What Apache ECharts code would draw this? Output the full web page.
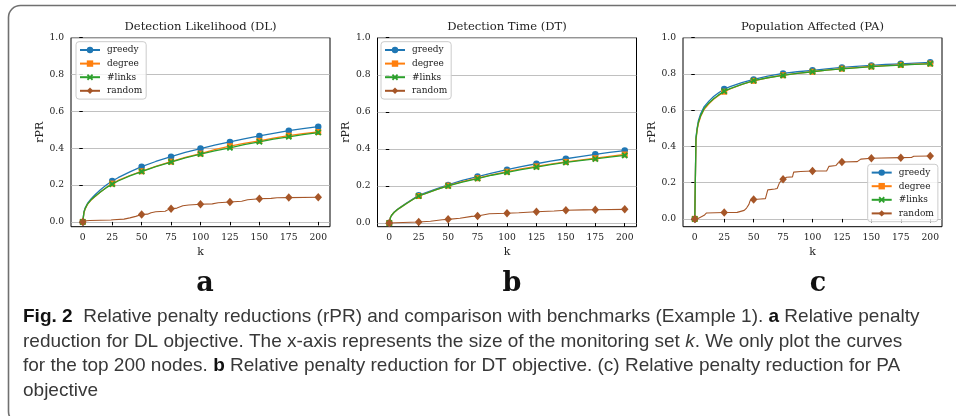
<!DOCTYPE html>
<html>
<head>
<meta charset="utf-8">
<script src="https://cdn.jsdelivr.net/npm/echarts@6/dist/echarts.min.js"></script>
<style>
  html, body { margin: 0; padding: 0; background: #fff; }
  #chart { width: 956px; height: 416px; }
</style>
</head>
<body>
<div id="chart"></div>
<script>
// Monitoring-set sizes that carry a marker, and the rPR tick values
const kTicks = [0, 25, 50, 75, 100, 125, 150, 175, 200];
const yTicks = [0, 0.2, 0.4, 0.6, 0.8, 1.0];
const seriesNames = ['greedy', 'degree', '#links', 'random'];

// Detection Likelihood (DL): [k, rPR]
const dlGreedy = [[0,0],[1,0.055],[2,0.075],[4,0.10],[7,0.125],[10,0.145],[15,0.175],[20,0.20],[25,0.222],[30,0.24],[40,0.272],[50,0.300],[62,0.328],[75,0.354],[87,0.377],[100,0.398],[112,0.417],[125,0.434],[137,0.451],[150,0.467],[162,0.481],[175,0.495],[187,0.506],[200,0.517]];
const dlDegree = [[0,0],[1,0.05],[2,0.07],[4,0.095],[7,0.118],[10,0.135],[15,0.162],[20,0.187],[25,0.208],[30,0.225],[40,0.252],[50,0.275],[62,0.302],[75,0.327],[87,0.35],[100,0.371],[112,0.392],[125,0.411],[137,0.426],[150,0.440],[162,0.455],[175,0.468],[187,0.479],[200,0.488]];
const dlLinks = [[0,0],[1,0.052],[2,0.072],[4,0.097],[7,0.12],[10,0.136],[15,0.162],[20,0.186],[25,0.205],[30,0.222],[40,0.25],[50,0.273],[62,0.3],[75,0.325],[87,0.347],[100,0.368],[112,0.386],[125,0.402],[137,0.419],[150,0.435],[162,0.449],[175,0.462],[187,0.474],[200,0.485]];
const dlRandom = [[0,0],[3,0.006],[6,0.008],[24,0.01],[26,0.012],[35,0.015],[40,0.022],[45,0.03],[50,0.04],[55,0.042],[58,0.05],[62,0.055],[70,0.058],[73,0.068],[75,0.071],[80,0.075],[85,0.088],[90,0.092],[100,0.096],[110,0.098],[115,0.104],[125,0.108],[135,0.112],[140,0.12],[150,0.126],[160,0.128],[165,0.131],[175,0.132],[200,0.134]];

// Detection Time (DT): [k, rPR]
const dtGreedy = [[0,0],[1,0.03],[2,0.042],[4,0.058],[7,0.075],[10,0.088],[15,0.11],[20,0.13],[25,0.150],[30,0.162],[40,0.185],[50,0.206],[62,0.23],[75,0.251],[87,0.27],[100,0.288],[112,0.305],[125,0.320],[137,0.334],[150,0.347],[162,0.359],[175,0.371],[187,0.381],[200,0.391]];
const dtDegree = [[0,0],[1,0.03],[2,0.042],[4,0.057],[7,0.073],[10,0.086],[15,0.107],[20,0.127],[25,0.146],[30,0.158],[40,0.181],[50,0.202],[62,0.223],[75,0.242],[87,0.26],[100,0.277],[112,0.292],[125,0.306],[137,0.318],[150,0.33],[162,0.34],[175,0.35],[187,0.36],[200,0.37]];
const dtLinks = [[0,0],[1,0.03],[2,0.042],[4,0.057],[7,0.073],[10,0.086],[15,0.107],[20,0.127],[25,0.146],[30,0.157],[40,0.18],[50,0.200],[62,0.221],[75,0.240],[87,0.258],[100,0.274],[112,0.288],[125,0.302],[137,0.315],[150,0.327],[162,0.337],[175,0.346],[187,0.356],[200,0.365]];
const dtRandom = [[0,0],[5,0.002],[25,0.006],[35,0.01],[45,0.018],[50,0.02],[60,0.026],[70,0.036],[75,0.038],[85,0.05],[100,0.053],[110,0.056],[125,0.061],[140,0.065],[150,0.069],[165,0.071],[175,0.072],[200,0.074]];

// Population Affected (PA): [k, rPR]
const paGreedy = [[0,0],[1,0.45],[2,0.5],[3,0.54],[5,0.58],[8,0.62],[12,0.65],[16,0.675],[20,0.695],[25,0.717],[30,0.73],[40,0.752],[50,0.770],[62,0.788],[75,0.803],[87,0.812],[100,0.820],[112,0.828],[125,0.836],[137,0.842],[150,0.847],[162,0.852],[175,0.856],[187,0.86],[200,0.864]];
const paDegree = [[0,0],[1,0.43],[2,0.49],[3,0.525],[5,0.565],[8,0.605],[12,0.635],[16,0.66],[20,0.68],[25,0.702],[30,0.717],[40,0.742],[50,0.762],[62,0.779],[75,0.793],[87,0.803],[100,0.812],[112,0.821],[125,0.829],[137,0.835],[150,0.841],[162,0.846],[175,0.850],[187,0.854],[200,0.857]];
const paLinks = [[0,0],[1,0.44],[2,0.495],[3,0.53],[5,0.57],[8,0.61],[12,0.64],[16,0.663],[20,0.683],[25,0.705],[30,0.719],[40,0.743],[50,0.763],[62,0.779],[75,0.792],[87,0.803],[100,0.812],[112,0.821],[125,0.828],[137,0.834],[150,0.840],[162,0.845],[175,0.849],[187,0.853],[200,0.856]];
const paRandom = [[0,0],[2,0],[3,0.01],[8,0.02],[10,0.033],[25,0.035],[36,0.036],[37,0.045],[42,0.047],[44,0.06],[46,0.08],[47,0.1],[50,0.107],[56,0.11],[60,0.112],[62,0.16],[68,0.165],[70,0.168],[72,0.2],[75,0.219],[78,0.23],[83,0.232],[84,0.258],[90,0.262],[100,0.264],[112,0.265],[114,0.29],[120,0.295],[122,0.31],[125,0.314],[138,0.316],[141,0.33],[150,0.335],[175,0.338],[184,0.339],[186,0.346],[200,0.347]];

// Panel titles and letters
const panelTitles = ['Detection Likelihood (DL)', 'Detection Time (DT)', 'Population Affected (PA)'];
const panelLetters = ['a', 'b', 'c'];

// Caption lines
const captionLines = [
  '{b|Fig. 2}  Relative penalty reductions (rPR) and comparison with benchmarks (Example 1). {b|a} Relative penalty',
  'reduction for DL objective. The x-axis represents the size of the monitoring set {i|k}. We only plot the curves',
  'for the top 200 nodes. {b|b} Relative penalty reduction for DT objective. (c) Relative penalty reduction for PA',
  'objective'
];

const panelData = [
  [dlGreedy, dlDegree, dlLinks, dlRandom],
  [dtGreedy, dtDegree, dtLinks, dtRandom],
  [paGreedy, paDegree, paLinks, paRandom]
];

// ---- styling / layout ----
const SERIF = 'DejaVu Serif';
const colors = ['#1f77b4', '#ff7f0e', '#2ca02c', '#a65628'];
const xMark = 'path://M2,0L5,3L8,0L10,2L7,5L10,8L8,10L5,7L2,10L0,8L3,5L0,2Z';
const symbols = ['circle', 'rect', xMark, 'diamond'];
const symbolSizes = [6.5, 6, 6.5, [7.5, 8.5]];
const gridLefts = [71, 377.5, 683];
const gridW = 259, gridTop = 37.7, gridH = 189;
const yMins = [-0.026, -0.0196, -0.043];
const legendPos = [
  { left: 76, top: 41.7 },
  { left: 381, top: 41.7 },
  { left: 867.7, top: 164.3 }
];
const titleX = gridLefts.map(l => l + gridW / 2);
const letterX = [205, 512, 818];

const grids = [], xAxes = [], yAxes = [], series = [], legends = [], graphics = [];

gridLefts.forEach((left, p) => {
  grids.push({
    left: left, top: gridTop, width: gridW, height: gridH,
    show: true, borderColor: '#000', borderWidth: 1,
    backgroundColor: 'transparent', containLabel: false, outerBoundsMode: 'none'
  });
  xAxes.push({
    gridIndex: p, type: 'value', min: -10, max: 210,
    name: 'k', nameLocation: 'middle', nameGap: 20,
    nameTextStyle: { fontFamily: SERIF, fontSize: 11, color: '#222' },
    axisLine: { show: false },
    axisTick: { show: true, inside: false, length: 3.5, customValues: kTicks, lineStyle: { color: '#000', width: 1 } },
    axisLabel: { show: true, customValues: kTicks, margin: 6.5, fontFamily: SERIF, fontSize: 9.2, color: '#222' },
    splitLine: { show: false }
  });
  yAxes.push({
    gridIndex: p, type: 'value', min: yMins[p], max: 1,
    name: 'rPR', nameLocation: 'middle', nameRotate: 90, nameGap: 25,
    nameTextStyle: { fontFamily: SERIF, fontSize: 11, color: '#222' },
    axisLine: { show: false },
    axisTick: { show: true, inside: false, length: 3.5, customValues: yTicks, lineStyle: { color: '#000', width: 1 } },
    axisLabel: { show: true, customValues: yTicks, margin: 7, fontFamily: SERIF, fontSize: 9.2, color: '#222',
                 formatter: v => v.toFixed(1) },
    splitLine: { show: true, lineStyle: { color: '#b0b0b0', width: 0.8 } }
  });
  panelData[p].forEach((pts, s) => {
    series.push({
      name: seriesNames[s], type: 'line', xAxisIndex: p, yAxisIndex: p,
      z: 3 + s, animation: false, silent: true,
      symbol: symbols[s], symbolSize: symbolSizes[s], showSymbol: true,
      lineStyle: { color: colors[s], width: s === 3 ? 1.1 : 1.3 },
      itemStyle: { color: colors[s], borderWidth: 0 },
      emphasis: { disabled: true },
      data: pts.map(([k, v]) => kTicks.includes(k) ? [k, v] : { value: [k, v], symbol: 'none' })
    });
  });
  legends.push({
    orient: 'vertical', left: legendPos[p].left, top: legendPos[p].top,
    data: seriesNames, selectedMode: false,
    itemWidth: 20, itemHeight: 8, itemGap: 4.6,
    padding: [3.8, 4, 3.8, 3],
    backgroundColor: 'rgba(255,255,255,0.8)', borderColor: '#cccccc', borderWidth: 1, borderRadius: 3,
    lineStyle: { width: 2 },
    textStyle: { fontFamily: SERIF, fontSize: 9, color: '#222', padding: [0, 0, 0, 2] }
  });
  graphics.push({
    type: 'text', x: titleX[p], y: 26.7, silent: true,
    style: { text: panelTitles[p], fontFamily: SERIF, fontSize: 11.6, fill: '#222',
             align: 'center', verticalAlign: 'middle', textAlign: 'center', textVerticalAlign: 'middle' }
  });
  graphics.push({
    type: 'text', x: letterX[p], y: 284, silent: true,
    style: { text: panelLetters[p], fontFamily: SERIF, fontSize: 27, fontWeight: 'bold', fill: '#111',
             align: 'center', verticalAlign: 'middle', textAlign: 'center', textVerticalAlign: 'middle' }
  });
});

// Caption block
const CAP_FONT = 'Liberation Sans';
const CAP_SIZE = 19;
captionLines.forEach((line, i) => {
  graphics.push({
    type: 'text', x: 23, y: 317 + i * 24.5, silent: true,
    style: {
      text: line, fontFamily: CAP_FONT, fontSize: CAP_SIZE, fill: '#383838',
      align: 'left', verticalAlign: 'middle', textAlign: 'left', textVerticalAlign: 'middle',
      rich: {
        b: { fontFamily: CAP_FONT, fontSize: CAP_SIZE, fontWeight: 'bold', fill: '#111', color: '#111' },
        i: { fontFamily: CAP_FONT, fontSize: CAP_SIZE, fontStyle: 'italic', fill: '#383838', color: '#383838' }
      }
    }
  });
});

// Rounded figure frame
graphics.push({
  type: 'rect', silent: true, z: -1,
  shape: { x: 8.5, y: 5.5, width: 960, height: 418, r: 12 },
  style: { fill: 'none', stroke: '#707070', lineWidth: 1.6 }
});

const chart = echarts.init(document.getElementById('chart'), null, { renderer: 'canvas' });
chart.setOption({
  animation: false,
  backgroundColor: '#fff',
  grid: grids, xAxis: xAxes, yAxis: yAxes,
  legend: legends, series: series,
  graphic: { elements: graphics }
});
</script>
</body>
</html>
